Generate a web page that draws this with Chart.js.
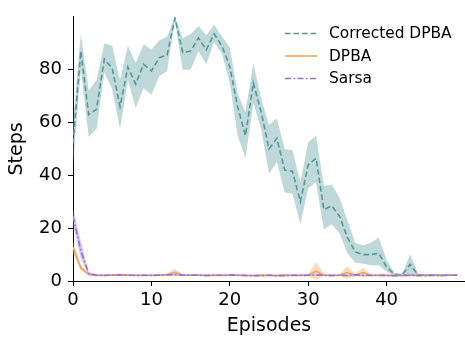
<!DOCTYPE html>
<html><head><meta charset="utf-8">
<script src="https://cdn.jsdelivr.net/npm/chart.js@4.4.0/dist/chart.umd.min.js"></script>
<style>html,body{margin:0;padding:0;background:#fff;overflow:hidden}canvas{display:block}</style>
</head><body>
<canvas id="c" width="465" height="337"></canvas>
<script>
// ---- data ----
const episodes = [0,1,2,3,4,5,6,7,8,9,10,11,12,13,14,15,16,17,18,19,20,21,22,23,24,25,26,27,28,29,30,31,32,33,34,35,36,37,38,39,40,41,42,43,44,45,46,47,48,49];
const xTicks = [0,10,20,30,40];
const yTicks = [0,20,40,60,80];

const correctedMean  = [52,87,63,65,84,80.5,66,81,74.5,82,79.5,84.5,85.5,99.5,86.5,87,92,87.5,93.5,89,81,66,55,75,64,50,54,42,41.5,30,44,46.5,27,28.5,24.5,16.5,11,10,10,10.5,5.3,2.5,2.3,6.3,2.3,2.2,2.2,2.2,2.2,2.2];
const correctedUpper = [60,93.5,72,76,90,89,76,89,82.5,89.5,87.5,91,92.5,100,92,93.5,96.5,93,97,92.5,88.5,71,64,82.5,69,59,61.5,50,49.5,37.5,52.5,55,36,36.5,31.5,23,14.5,13.5,14.5,16.5,8,3,2.8,10,2.8,2.5,2.5,2.5,2.5,2.5];
const correctedLower = [44,80,54.5,57.5,79,72.5,57.5,76,65.5,73,70.5,77.5,79.5,98.5,80,80,87,82,90.5,86,75,55,46.5,67.5,57.5,40.5,45,33.5,33,21.5,35,37.5,19.5,21.5,18,10.5,7,6.5,6,6,3.5,2,2,2.5,2,2,2,2,2,2];

const dpbaMean  = [12.8,5,2.5,2.1,2.2,2.2,2.3,2.2,2.2,2.1,2.2,2.2,2.4,3.3,2.2,2.2,2.2,2.1,2.2,2.1,2.2,2.2,2.1,2.1,2.2,2.1,2.1,2.2,2.1,2.2,2.2,3.7,2.2,2.1,2.2,3.2,2.2,3.2,2.2,2.1,2.2,2.1,2.1,2.2,2.1,2.2,2.1,2.1,2.2,2.2];
const dpbaUpper = [15,6,2.9,2.5,2.6,2.6,2.7,2.6,2.6,2.5,2.6,2.6,2.9,4.5,2.6,2.6,2.6,2.5,2.6,2.5,2.6,2.6,2.5,2.5,2.6,2.5,2.5,2.6,2.5,2.6,2.7,7.2,2.7,2.5,2.6,5.7,2.7,5,2.6,2.5,2.6,2.5,2.5,2.6,2.5,2.6,2.5,2.5,2.6,2.6];
const dpbaLower = [10.4,4,2.2,1.8,1.9,1.9,2,1.9,1.9,1.8,1.9,1.9,2,2.2,1.9,1.9,1.9,1.8,1.9,1.8,1.9,1.9,1.8,1.8,1.9,1.8,1.8,1.9,1.8,1.9,1.8,0.5,1.8,1.8,1.9,0.8,1.8,1.3,1.9,1.8,1.9,1.8,1.8,1.9,1.8,1.9,1.8,1.8,1.9,1.9];

const sarsaMean  = [24.5,11.5,2.8,2.2,2.1,2.2,2.3,2.2,2.1,2.2,2.1,2.2,2.3,2.4,2.2,2.3,2.2,2.1,2.2,2.2,2.3,2.2,2.1,2.0,2.1,2.2,2.0,2.1,2.2,2.1,2.2,2.3,2.2,2.1,2.2,2.1,2.3,2.2,2.1,2.2,2.1,2.0,2.1,2.2,2.1,2.1,2.2,2.1,2.2,2.2];
const sarsaUpper = [27.5,15,3.5,2.5,2.4,2.5,2.6,2.5,2.4,2.5,2.4,2.5,2.6,2.8,2.5,2.6,2.5,2.4,2.5,2.5,2.6,2.5,2.4,2.3,2.4,2.5,2.3,2.4,2.5,2.4,2.5,2.6,2.5,2.4,2.5,2.4,2.6,2.5,2.4,2.5,2.4,2.3,2.4,2.5,2.4,2.4,2.5,2.4,2.5,2.5];
const sarsaLower = [21.5,8.5,2.3,1.9,1.8,1.9,2,1.9,1.8,1.9,1.8,1.9,2,2,1.9,2,1.9,1.8,1.9,1.9,2,1.9,1.8,1.7,1.8,1.9,1.7,1.8,1.9,1.8,1.9,2,1.9,1.8,1.9,1.8,2,1.9,1.8,1.9,1.8,1.7,1.8,1.9,1.8,1.8,1.9,1.8,1.9,1.9];

const seriesNames = ['Corrected DPBA','DPBA','Sarsa'];

// ---- build ----
const pts = arr => episodes.map((e,i)=>({x:e,y:arr[i]}));
const FONT = '"DejaVu Sans", "Liberation Sans", sans-serif';

function band(lower, upper, fillColor, order){
  return [
    {label:'_lo', data:pts(lower), borderWidth:0, borderColor:'rgba(0,0,0,0)', pointRadius:0, fill:false, order:order},
    {label:'_hi', data:pts(upper), borderWidth:0, borderColor:'rgba(0,0,0,0)', pointRadius:0, fill:'-1', backgroundColor:fillColor, order:order-1}
  ];
}
function line(name, data, color, dash, order){
  return {label:name, data:pts(data), borderColor:color, borderWidth:1.6, borderDash:dash, pointRadius:0, fill:false, tension:0, order:order, isMain:true};
}

const datasets = [
  ...band(correctedLower, correctedUpper, 'rgba(95,158,160,0.4)', 30),
  line(seriesNames[0], correctedMean, '#55979a', [5.5,3], 28),
  ...band(dpbaLower, dpbaUpper, 'rgba(244,164,96,0.4)', 20),
  line(seriesNames[1], dpbaMean, '#f4a460', [], 18),
  ...band(sarsaLower, sarsaUpper, 'rgba(147,112,219,0.4)', 10),
  line(seriesNames[2], sarsaMean, '#9370db', [6,2.5,1.5,2.5], 8)
];

const legendPlugin = {
  id:'mplLegend',
  afterDraw(chart){
    const ctx = chart.ctx;
    const items = chart.data.datasets.filter(d=>d.isMain);
    ctx.save();
    items.forEach((d,i)=>{
      const y = 33.5 + i*22.5;
      ctx.beginPath();
      ctx.setLineDash(d.borderDash||[]);
      ctx.strokeStyle = d.borderColor;
      ctx.lineWidth = d.borderWidth;
      ctx.moveTo(285,y); ctx.lineTo(317,y); ctx.stroke();
      ctx.setLineDash([]);
      ctx.fillStyle = '#000';
      ctx.font = '15.4px ' + FONT;
      ctx.textBaseline = 'middle';
      ctx.textAlign = 'left';
      ctx.fillText(d.label, 329, y+0.5);
    });
    ctx.restore();
  }
};

new Chart(document.getElementById('c'), {
  type:'line',
  data:{datasets},
  plugins:[legendPlugin],
  options:{
    responsive:false, animation:false, devicePixelRatio:1,
    layout:{padding:{top:13,right:0,left:0,bottom:0}},
    plugins:{legend:{display:false}, tooltip:{enabled:false}},
    scales:{
      x:{
        type:'linear', min:0, max:50,
        afterBuildTicks(s){ s.ticks = xTicks.map(v=>({value:v})); },
        afterFit(s){ s.height = 56; },
        ticks:{color:'#000', font:{family:FONT, size:18}, padding:4, maxRotation:0, autoSkip:false},
        grid:{drawOnChartArea:false, drawTicks:true, tickLength:5, color:'#000'},
        border:{display:true, color:'#000', width:1},
        title:{display:true, text:'Episodes', color:'#000', font:{family:FONT, size:19}, padding:{top:0,bottom:0}}
      },
      y:{
        type:'linear', min:0, max:100,
        afterBuildTicks(s){ s.ticks = yTicks.map(v=>({value:v})); },
        afterFit(s){ s.width = 73; },
        ticks:{color:'#000', font:{family:FONT, size:18}, padding:6, autoSkip:false},
        grid:{drawOnChartArea:false, drawTicks:true, tickLength:5, color:'#000'},
        border:{display:true, color:'#000', width:1},
        title:{display:true, text:'Steps', color:'#000', font:{family:FONT, size:19}, padding:{top:6,bottom:0}}
      }
    }
  }
});
</script>
</body></html>
